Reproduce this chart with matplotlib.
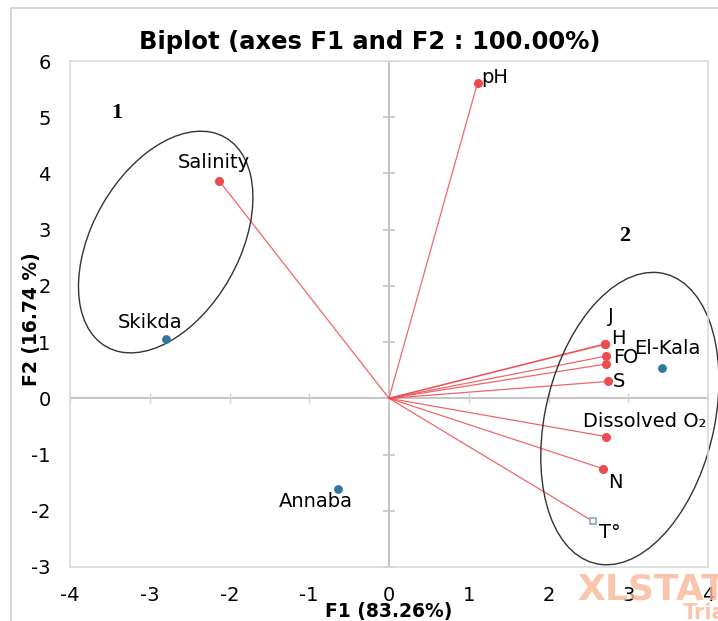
import numpy as np
import matplotlib
matplotlib.use('Agg')
import matplotlib.pyplot as plt
from matplotlib.patches import Ellipse, Rectangle

# active variables (loadings on F1 / F2)
var_names = ['pH', 'Salinity', 'J', 'H', 'F', 'O', 'S', 'Dissolved O\u2082', 'N', 'T\u00b0']
var_f1 = [1.11, -2.13, 2.71, 2.71, 2.72, 2.72, 2.74, 2.72, 2.68, 2.56]
var_f2 = [5.61, 3.87, 0.97, 0.96, 0.75, 0.61, 0.30, -0.68, -1.25, -2.19]

# observations (sites)
obs_names = ['Skikda', 'Annaba', 'El-Kala']
obs_f1 = [-2.79, -0.64, 3.42]
obs_f2 = [1.05, -1.62, 0.54]

xticks = [-4, -3, -2, -1, 0, 1, 2, 3, 4]
yticks = [-3, -2, -1, 0, 1, 2, 3, 4, 5, 6]

# label offsets in points (dx, dy, ha)
var_offsets = {
    'pH': (3, 4, 'left'), 'Salinity': (-4, 13, 'center'), 'J': (2, 20, 'left'),
    'H': (4, 4, 'left'), 'F': (5, -1, 'left'), 'O': (12.5, 5, 'left'),
    'S': (4, 0, 'left'), 'Dissolved O\u2082': (28, 11, 'center'),
    'N': (4, -10, 'left'), 'T\u00b0': (4, -8, 'left'),
}
obs_offsets = {'Skikda': (-12, 12), 'Annaba': (-16, -9), 'El-Kala': (4, 14)}

red = '#EE4B4F'
blue = '#2F76A0'

fig = plt.figure(figsize=(7.18, 6.21), dpi=100)
ax = fig.add_axes([70 / 718, 1 - 567 / 621, 638 / 718, 506 / 621])

# outer chart frame
fig.patches.append(Rectangle((11 / 718, -0.05), 1.2, 1 - 8 / 621 + 0.05,
                             transform=fig.transFigure, fill=False,
                             edgecolor='#D0D0D0', lw=1.2, zorder=0))

ax.set_xlim(-4, 4)
ax.set_ylim(-3, 6)
for sp in ax.spines.values():
    sp.set_color('#D9D9D9')
    sp.set_linewidth(1.2)
ax.set_xticks(xticks)
ax.set_yticks(yticks)
ax.set_xticklabels([str(t) for t in xticks])
ax.set_yticklabels([str(t) for t in yticks])
ax.tick_params(length=0, labelsize=14)
ax.tick_params(axis='x', pad=14)
ax.tick_params(axis='y', pad=14)

# zero lines with small ticks
ax.axhline(0, color='#C4C4C4', lw=1.4, zorder=1)
ax.axvline(0, color='#C4C4C4', lw=1.4, zorder=1)
ax.plot([0] * len(yticks), yticks, ls='none', marker='_', ms=9, mew=1.2,
        color='#C4C4C4', zorder=1)
ax.plot(xticks, [0] * len(xticks), ls='none', marker='|', ms=7, mew=1.0,
        color='#D0D0D0', zorder=1)

# vectors
for name, x, y in zip(var_names, var_f1, var_f2):
    ax.plot([0, x], [0, y], color=red, lw=0.9, alpha=0.85, zorder=2)
    if name == 'T\u00b0':
        ax.plot(x, y, marker='s', ms=5, mfc='white', mec='#8FA6BF', mew=1.2, zorder=3)
    else:
        ax.plot(x, y, marker='o', ms=5.5, color=red, zorder=3)
    dx, dy, ha = var_offsets[name]
    ax.annotate(name, (x, y), xytext=(dx, dy), textcoords='offset points',
                ha=ha, va='center', fontsize=14, color='black', zorder=4)

ax.scatter(obs_f1, obs_f2, s=28, color=blue, zorder=3)
for name, x, y in zip(obs_names, obs_f1, obs_f2):
    dx, dy = obs_offsets[name]
    ax.annotate(name, (x, y), xytext=(dx, dy), textcoords='offset points',
                ha='center', va='center', fontsize=14, color='black', zorder=4)

# group ellipses
ax.add_patch(Ellipse((-2.80, 2.78), 4.07, 1.94, angle=73.6, fill=False,
                     edgecolor='#333333', lw=1.0, clip_on=False, zorder=2))
ax.add_patch(Ellipse((3.02, -0.36), 5.24, 2.14, angle=82.3, fill=False,
                     edgecolor='#333333', lw=1.0, clip_on=False, zorder=2))
ax.text(-3.41, 5.08, '1', family='Liberation Serif', weight='bold', fontsize=16,
        ha='center', va='center')
ax.text(2.95, 2.89, '2', family='Liberation Serif', weight='bold', fontsize=16,
        ha='center', va='center')

fig.text(369.5 / 718, 1 - 42 / 621, 'Biplot (axes F1 and F2 : 100.00%)',
         ha='center', va='center', fontsize=17.5, weight='bold')
ax.set_xlabel('F1 (83.26%)', fontsize=13.5, weight='bold')
ax.xaxis.set_label_coords(0.5, -0.07)
ax.set_ylabel('F2 (16.74 %)', fontsize=13.5, weight='bold')
ax.yaxis.set_label_coords(-0.045, 0.49)

# watermark
fig.text(577 / 718, 1 - 590 / 621, 'XLSTAT', ha='left', va='center', fontsize=26,
         weight='bold', color='#F8B898', alpha=0.8, zorder=0)
fig.text(683 / 718, 1 - 613 / 621, 'Trial', ha='left', va='center', fontsize=15,
         weight='bold', color='#F8B898', alpha=0.8, zorder=0)

fig.savefig('out.png', dpi=100)
